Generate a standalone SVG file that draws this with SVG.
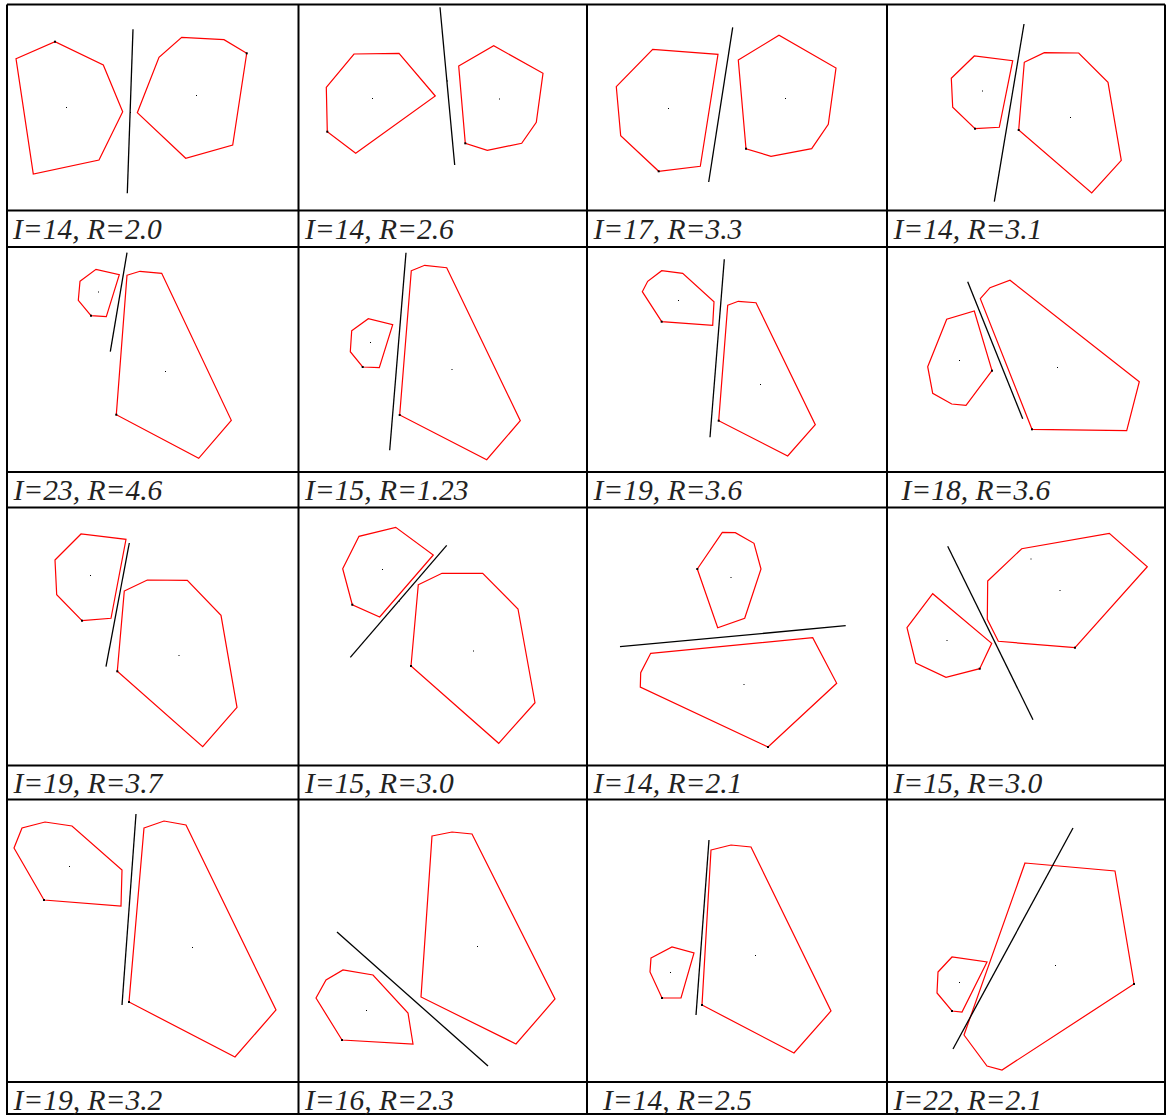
<svg xmlns="http://www.w3.org/2000/svg" width="1167" height="1115" viewBox="0 0 1167 1115">
<style>
.poly{fill:none;stroke:#ff0000;stroke-width:1.2;stroke-linejoin:miter}
.sep{stroke:#000;stroke-width:1.3;fill:none}
.grid{stroke:#000;stroke-width:2;fill:none}
.cap{font-family:"Liberation Serif","Times New Roman",serif;font-style:italic;font-size:29.5px;fill:#222}
.v{fill:#000}
.c{fill:#000}
</style>
<rect width="1167" height="1115" fill="#fff"/>
<g id="grid">
<path class="grid" d="M7,4.5H1165M7,210.5H1165M7,247H1165M7,472H1165M7,507.5H1165M7,765.5H1165M7,799.5H1165M7,1082H1165M7,1114H1165"/>
<path class="grid" d="M7,4.5V1115M298.5,4.5V1115M587,4.5V1115M887,4.5V1115M1165,4.5V1115"/>
</g>
<g id="panel1">
<polygon class="poly" points="16,58.7 55,41.7 103.3,65 122.7,111.7 99,160 33.3,174"/>
<polygon class="poly" points="137.3,112.7 159,57.3 181.7,37.3 224,39.7 246.7,53.3 232.7,145 185.7,158.3"/>
<line class="sep" x1="133" y1="29.3" x2="127.3" y2="193.3"/>
<rect class="v" x="54" y="40.7" width="2" height="2" fill="#c00"/><rect class="v" x="245.7" y="52.3" width="2" height="2"/>
<rect class="c" x="66" y="107" width="1" height="1" fill="#f00"/><rect class="c" x="196" y="95" width="1" height="1"/><rect class="c" x="130" y="112" width="1" height="1"/>
<text class="cap" x="13" y="239">I=14, R=2.0</text>
</g>
<g id="panel2">
<polygon class="poly" points="326.3,87.3 354,54 399,53.3 435.3,96 355.7,153.3 327.3,131.7"/>
<polygon class="poly" points="458.7,66 493.7,45.7 543,73.3 536.3,122.3 521.7,143.3 487.3,150.3 465.3,143.3"/>
<line class="sep" x1="440" y1="7.3" x2="454.7" y2="165"/>
<rect class="v" x="326.3" y="130.7" width="2" height="2"/><rect class="v" x="464.3" y="142.3" width="2" height="2"/>
<rect class="c" x="372" y="98" width="1" height="1"/><rect class="c" x="499" y="98.5" width="1" height="1"/><rect class="c" x="447" y="80.5" width="1" height="1"/>
<text class="cap" x="305" y="239">I=14, R=2.6</text>
</g>
<g id="panel3">
<polygon class="poly" points="616.3,86.7 652.7,49.3 718,54.3 700.3,166.3 658.7,171.3 620.7,135.7"/>
<polygon class="poly" points="738.3,60 779,35.3 836,68 828.3,124.3 811.7,148.7 771,156.3 746,148.7"/>
<line class="sep" x1="732.7" y1="27.3" x2="708.7" y2="182"/>
<rect class="v" x="657.7" y="170.3" width="2" height="2"/><rect class="v" x="745" y="147.7" width="2" height="2"/>
<rect class="c" x="668" y="108" width="1" height="1"/><rect class="c" x="785" y="98" width="1" height="1"/>
<text class="cap" x="593.5" y="239">I=17, R=3.3</text>
</g>
<g id="panel4">
<polygon class="poly" points="951.3,78.3 974.3,56 1012.7,60.7 999.3,127.3 975,128.7 952.7,107.3"/>
<polygon class="poly" points="1024.3,62.3 1044.3,52.7 1078.7,53 1108,82.3 1121.3,160.3 1091.7,193 1018.7,130"/>
<line class="sep" x1="1024" y1="24" x2="994.3" y2="201.7"/>
<rect class="v" x="974" y="127.7" width="2" height="2"/><rect class="v" x="1017.7" y="129" width="2" height="2"/>
<rect class="c" x="982" y="90.5" width="1" height="1"/><rect class="c" x="1070" y="117" width="1" height="1"/>
<text class="cap" x="893.5" y="239">I=14, R=3.1</text>
</g>
<g id="panel5">
<polygon class="poly" points="80,281.3 96,269.3 119.3,274.7 106.3,316.7 91,315.7 78.3,300.3"/>
<polygon class="poly" points="127,275.3 140,271.3 161.7,273.3 231.3,420.3 198.7,458.3 116.3,414.7"/>
<line class="sep" x1="127" y1="252.7" x2="110.3" y2="351.7"/>
<rect class="v" x="90" y="314.7" width="2" height="2"/><rect class="v" x="115.3" y="413.7" width="2" height="2"/>
<rect class="c" x="98" y="291.5" width="1" height="1"/><rect class="c" x="165" y="371" width="1" height="1"/>
<text class="cap" x="13.5" y="500">I=23, R=4.6</text>
</g>
<g id="panel6">
<polygon class="poly" points="351.7,330.7 368.3,318.7 392.7,324.7 379.3,367.7 362.7,367 350.3,351.7"/>
<polygon class="poly" points="411.3,270.7 424.7,265.3 446.7,267.7 520.3,420.7 486.7,459.7 399.7,415"/>
<line class="sep" x1="406" y1="252.7" x2="389.7" y2="450.3"/>
<rect class="v" x="361.7" y="366" width="2" height="2"/><rect class="v" x="398.7" y="414" width="2" height="2"/>
<rect class="c" x="370" y="342" width="1" height="1"/><rect class="c" x="451.5" y="369" width="1" height="1"/>
<text class="cap" x="305" y="500">I=15, R=1.23</text>
</g>
<g id="panel7">
<polygon class="poly" points="642.3,291.7 647.7,281.3 661.7,270.7 682.7,273.3 714,301.7 712.7,325.3 661.7,321.7"/>
<polygon class="poly" points="727.7,305.3 738.3,301.3 756,302.7 815.3,424.7 787.7,456 718.7,420.7"/>
<line class="sep" x1="724.3" y1="259.3" x2="710" y2="437.3"/>
<rect class="v" x="660.7" y="320.7" width="2" height="2"/><rect class="v" x="717.7" y="419.7" width="2" height="2"/>
<rect class="c" x="678" y="300" width="1" height="1"/><rect class="c" x="760" y="384" width="1" height="1"/>
<text class="cap" x="593.5" y="500">I=19, R=3.6</text>
</g>
<g id="panel8">
<polygon class="poly" points="927.7,366.7 946.7,319.3 974.3,311 992,370.7 966,405.3 951.7,404 932.7,393.3"/>
<polygon class="poly" points="980.3,298.7 990,287.7 1010,280.3 1139.3,381.7 1126.7,430.7 1032,429.3"/>
<line class="sep" x1="967.7" y1="281.7" x2="1022.7" y2="418.7"/>
<rect class="v" x="991" y="369.7" width="2" height="2"/><rect class="v" x="1031" y="428.3" width="2" height="2"/>
<rect class="c" x="959" y="360" width="1" height="1"/><rect class="c" x="1057" y="367" width="1" height="1"/>
<text class="cap" x="901.5" y="500">I=18, R=3.6</text>
</g>
<g id="panel9">
<polygon class="poly" points="55,560 81,534 126,539.3 111,618.3 82,620.7 56.7,594.7"/>
<polygon class="poly" points="124.3,591 147.3,580 187.3,580.3 221,615.3 237,707.3 202.7,746.7 117.3,671.3"/>
<line class="sep" x1="129.3" y1="543" x2="106" y2="666.7"/>
<rect class="v" x="81" y="619.7" width="2" height="2"/><rect class="v" x="116.3" y="670.3" width="2" height="2"/>
<rect class="c" x="90" y="575" width="1" height="1"/><rect class="c" x="178.5" y="655" width="1" height="1"/>
<text class="cap" x="13.5" y="792.5">I=19, R=3.7</text>
</g>
<g id="panel10">
<polygon class="poly" points="342.7,568.7 359,536.3 395.7,527.3 433.3,555 379.7,617 352.3,604.7"/>
<polygon class="poly" points="418.3,584.7 442,573.3 482.7,573.3 518,609 535,702.7 498.7,743.3 411,666"/>
<line class="sep" x1="446.7" y1="545.3" x2="350.3" y2="657.3"/>
<rect class="v" x="351.3" y="603.7" width="2" height="2"/><rect class="v" x="410" y="665" width="2" height="2"/>
<rect class="c" x="382" y="569" width="1" height="1"/><rect class="c" x="473" y="650.5" width="1" height="1"/><rect class="c" x="399" y="600.5" width="1" height="1"/>
<text class="cap" x="305" y="792.5">I=15, R=3.0</text>
</g>
<g id="panel11">
<polygon class="poly" points="697.3,569 722.3,532.3 735.3,532.7 754,543.3 761,569 744.7,618.3 717.7,627.7"/>
<polygon class="poly" points="650.7,653.3 812.7,637.7 836.7,683.3 768,747 640.3,687 640.7,672.7"/>
<line class="sep" x1="620" y1="646.7" x2="845.7" y2="625.7"/>
<rect class="v" x="696.3" y="568" width="2" height="2"/><rect class="v" x="767" y="746" width="2" height="2"/>
<rect class="c" x="730.5" y="577" width="1" height="1"/><rect class="c" x="743.5" y="684" width="1" height="1"/>
<text class="cap" x="593.5" y="792.5">I=14, R=2.1</text>
</g>
<g id="panel12">
<polygon class="poly" points="907,627.7 932.7,593.7 991.7,643.3 979.7,668.7 946,677.3 915.7,663"/>
<polygon class="poly" points="987.7,581 1021.7,548.7 1109.3,533.3 1147.3,566.7 1075,647.7 998.3,641.3 987.3,619.3"/>
<line class="sep" x1="947.7" y1="546.3" x2="1033" y2="719.7"/>
<rect class="v" x="978.7" y="667.7" width="2" height="2"/><rect class="v" x="1074" y="646.7" width="2" height="2"/>
<rect class="c" x="946.5" y="640" width="1" height="1"/><rect class="c" x="1059.5" y="590" width="1" height="1"/><rect class="c" x="1030.5" y="558.5" width="1" height="1"/>
<text class="cap" x="893.5" y="792.5">I=15, R=3.0</text>
</g>
<g id="panel13">
<polygon class="poly" points="14,848 22,828 45,822 72,826 122,870 121,906 44,900"/>
<polygon class="poly" points="144,828 164,821 186,825 276,1010 235,1057 129,1002"/>
<line class="sep" x1="136" y1="814" x2="122" y2="1005"/>
<rect class="v" x="43" y="899" width="2" height="2"/><rect class="v" x="128" y="1001" width="2" height="2"/>
<rect class="c" x="69" y="866" width="1" height="1"/><rect class="c" x="192" y="947" width="1" height="1"/>
<text class="cap" x="13.5" y="1110">I=19, R=3.2</text>
</g>
<g id="panel14">
<polygon class="poly" points="316,998 326,980 343,970 373,975 408,1013 413,1044 342,1040"/>
<polygon class="poly" points="432,836 452,832 472,834 555,999 516,1044 421,997"/>
<line class="sep" x1="337" y1="932" x2="488" y2="1066"/>
<rect class="v" x="341" y="1039" width="2" height="2"/>
<rect class="c" x="366" y="1010" width="1" height="1"/><rect class="c" x="477" y="946" width="1" height="1"/>
<text class="cap" x="305" y="1110">I=16, R=2.3</text>
</g>
<g id="panel15">
<polygon class="poly" points="651,958 672,947 694,953 681,998 662,998 650,972"/>
<polygon class="poly" points="711,850 731,845 751,847 831,1011 794,1053 702,1005"/>
<line class="sep" x1="709" y1="840" x2="696" y2="1015"/>
<rect class="v" x="661" y="997" width="2" height="2"/><rect class="v" x="701" y="1004" width="2" height="2"/>
<rect class="c" x="670" y="972" width="1" height="1"/><rect class="c" x="755" y="955" width="1" height="1"/>
<text class="cap" x="603" y="1110">I=14, R=2.5</text>
</g>
<g id="panel16">
<polygon class="poly" points="938,972 952,957 987,962 962,1012 952,1011 937,993"/>
<polygon class="poly" points="1025,863 1115,871 1134,984 1002,1070 987,1066 964,1035"/>
<line class="sep" x1="1073" y1="828" x2="953" y2="1049"/>
<rect class="v" x="951" y="1010" width="2" height="2"/><rect class="v" x="1133" y="983" width="2" height="2"/>
<rect class="c" x="959" y="982" width="1" height="1"/><rect class="c" x="1055" y="965" width="1" height="1"/>
<text class="cap" x="893.5" y="1110">I=22, R=2.1</text>
</g>
</svg>
